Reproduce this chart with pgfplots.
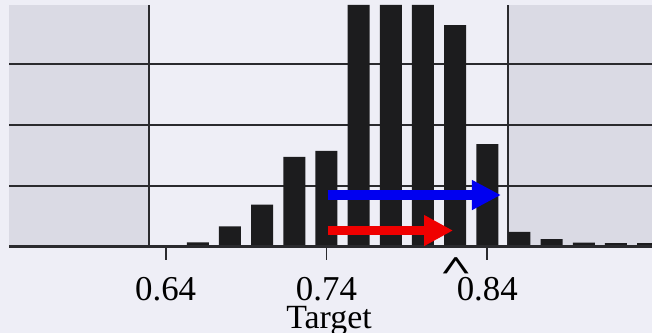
\documentclass[border=0pt]{standalone}
\usepackage{graphicx}
\usepackage{pgfplots}
\pgfplotsset{compat=1.18}
\usepackage{fontspec}
\setmainfont{Liberation Serif}
\usetikzlibrary{arrows.meta}
\definecolor{bg}{HTML}{EEEEF6}
\definecolor{shade}{HTML}{DADAE4}
\definecolor{barc}{HTML}{1C1C1E}
\definecolor{gridc}{HTML}{2A2A2E}
\definecolor{arrblue}{HTML}{0000F0}
\definecolor{arrred}{HTML}{F00000}
\begin{document}
\begin{tikzpicture}
\fill[bg] (0,0) rectangle (652bp,333bp);
\begin{axis}[
  at={(9bp,86.5bp)}, anchor=south west,
  scale only axis, width=643bp, height=241.5bp,
  xmin=0.5426, xmax=0.9424, ymin=0, ymax=19.8,
  clip=false,
  axis line style={draw=none},
  ytick=\empty,
  xtick pos=bottom,
  xtick={0.64,0.74,0.84},
  xticklabels={0.64,0.74,0.84},
  tick align=outside,
  major tick length=13bp,
  x tick style={gridc, line width=1.8bp},
  xticklabel style={font=\fontsize{35}{35}\selectfont, anchor=base, yshift=-40.5bp, inner sep=0pt},
  xlabel={Target},
  xlabel style={font=\fontsize{34}{34}\selectfont, at={(axis description cs:0.4977,0)}, anchor=base, yshift=-81.5bp, inner sep=0pt},
  extra x ticks={0.8205},
  extra x tick labels={\scalebox{1.6}[1]{\bfseries\textasciicircum}},
  extra x tick style={major tick length=0pt, xticklabel style={yshift=7bp}},
]
% shaded regions
\addplot[draw=none, fill=shade] coordinates {(0.5426,0) (0.6296,0) (0.6296,19.8) (0.5426,19.8)};
\addplot[draw=none, fill=shade] coordinates {(0.8527,0) (0.9424,0) (0.9424,19.8) (0.8527,19.8)};
% horizontal grid lines
\addplot[gridc, line width=2bp] coordinates {(0.5426,5) (0.9424,5)};
\addplot[gridc, line width=2bp] coordinates {(0.5426,10) (0.9424,10)};
\addplot[gridc, line width=2bp] coordinates {(0.5426,15) (0.9424,15)};
% vertical boundary lines
\addplot[gridc, line width=2.2bp] coordinates {(0.6296,0) (0.6296,19.8)};
\addplot[gridc, line width=2.2bp] coordinates {(0.8527,0) (0.8527,19.8)};
% histogram bars
\addplot[ybar, bar width=0.01368, fill=barc, draw=none] coordinates {
 (0.66,0.33) (0.68,1.64) (0.70,3.44) (0.72,7.34) (0.74,7.85)
 (0.76,19.8) (0.78,19.8) (0.80,19.8) (0.82,18.16) (0.84,8.40)
 (0.86,1.19) (0.88,0.61) (0.90,0.31) (0.92,0.28) (0.94,0.28)};
% baseline
\addplot[gridc, line width=2.5bp] coordinates {(0.5426,0) (0.9424,0)};
% arrows
\addplot[arrblue, line width=10bp, -{Triangle[length=29bp,width=28bp]}] coordinates {(0.7407,4.22) (0.8485,4.22)};
\addplot[arrred, line width=9.5bp, -{Triangle[length=29bp,width=29bp]}] coordinates {(0.7407,1.31) (0.8187,1.31)};
\end{axis}
\pgfresetboundingbox
\path[use as bounding box] (0,0) rectangle (652bp,333bp);
\end{tikzpicture}
\end{document}
